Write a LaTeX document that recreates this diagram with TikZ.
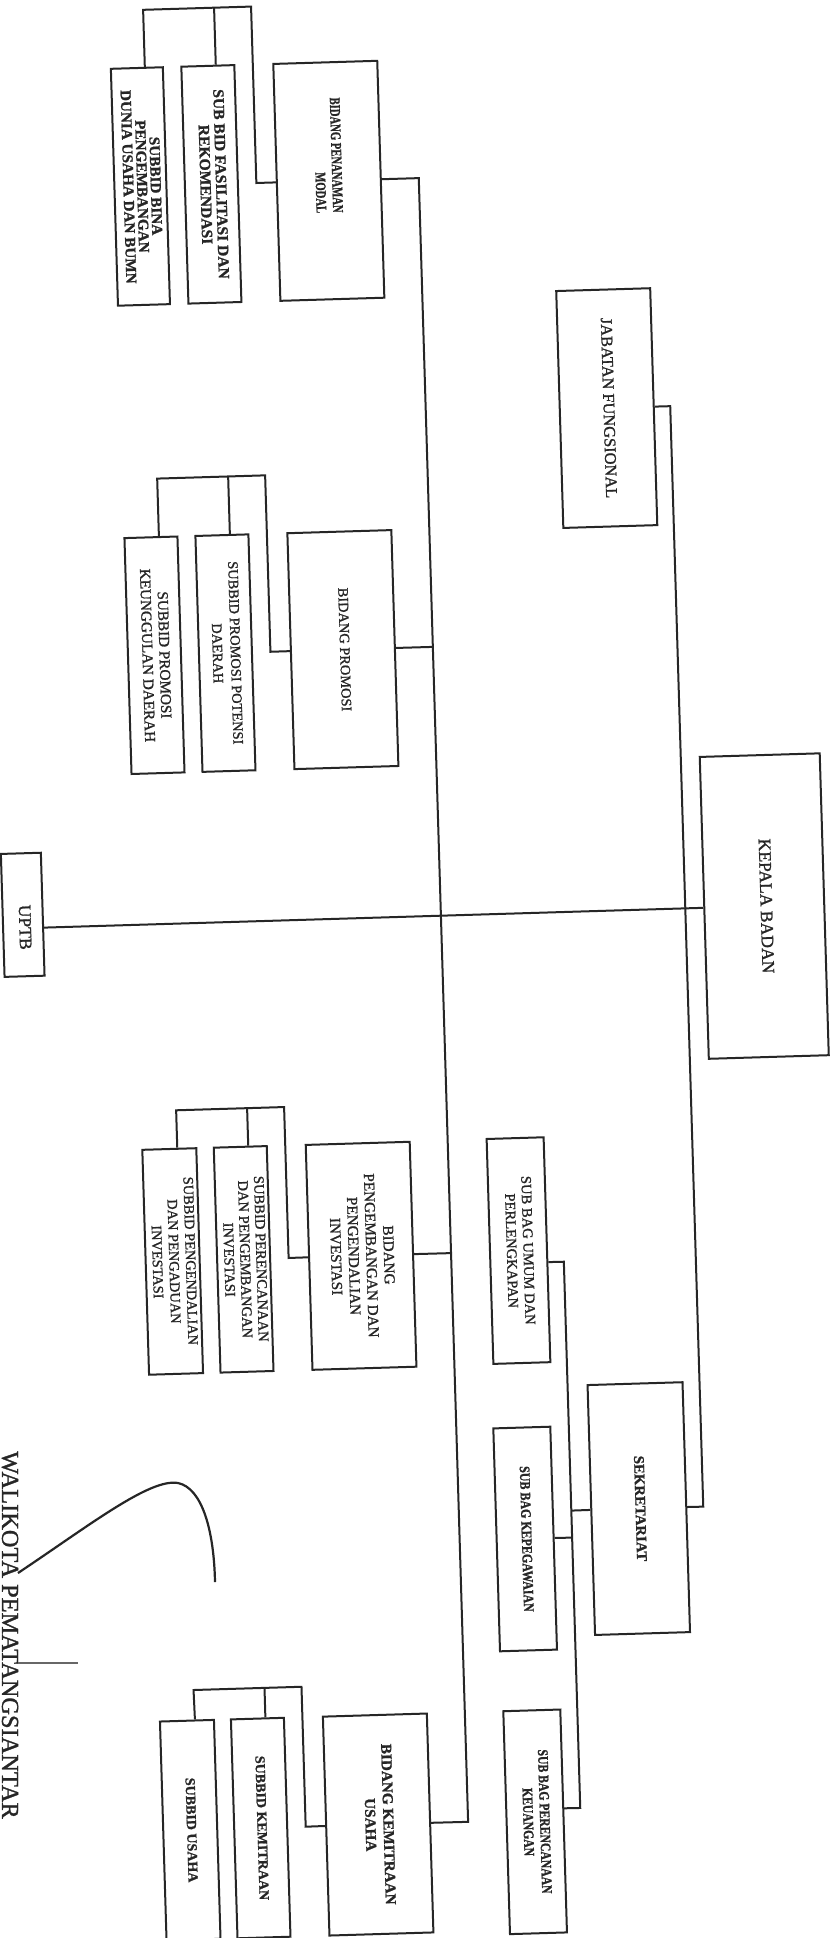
\documentclass[tikz,border=0pt]{standalone}
\usepackage{fontspec}
\setmainfont{Liberation Serif}[FakeBold=1.2]
\usepackage{graphicx}
\definecolor{ink}{HTML}{262626}
\newcommand\tbl[1]{\begin{tabular}{@{}c@{}}#1\end{tabular}}
\newcommand\fz[2]{\fontsize{#1}{#2}\selectfont}
\newcommand\rt[3]{\rotatebox{-90}{\scalebox{#2}[1]{#1\tbl{#3}}}}
\tikzset{
  box/.style={draw=ink, line width=1pt, inner sep=0pt, text=ink},
  lbl/.style={rotate=-90, inner sep=0pt, text=ink},
  con/.style={draw=ink, line width=1pt, line join=miter},
}
\begin{document}
\begin{tikzpicture}[x=0.5pt, y=-0.5pt]
\fill[white] (0,0) rectangle (834,1938);
\useasboundingbox (0,0) rectangle (834,1938);
\begin{scope}[rotate around={1.72:(417,969)}, transform shape]
% ---- Bidang Penanaman Modal group
\node[box, minimum width=52pt, minimum height=118.5pt] (pen) at (352.5,178.5) {};
\node[lbl] (pentext) at (351,153)
  {\scalebox{0.72}[1]{\bfseries\fz{7.4}{8.3}\begin{tabular}{@{}r@{}}BIDANG PENANAMAN\\MODAL\end{tabular}}};
\node[box, minimum width=26.5pt, minimum height=118.5pt] (fas) at (235,178.5)
  {\rt{\bfseries\fz{7.8}{7.8}}{1}{SUB BID FASILITASI DAN\\REKOMENDASI}};
\node[box, minimum width=26pt, minimum height=118.5pt] (bina) at (164,178.5)
  {\rt{\bfseries\fz{7.6}{6}}{1}{SUBBID BINA\\PENGEMBANGAN\\DUNIA USAHA DAN BUMN}};
% ---- Bidang Promosi group
\node[box, minimum width=52pt, minimum height=118pt] (pro) at (352.5,647.5)
  {\rt{\fz{7.2}{7}}{1}{BIDANG PROMOSI}};
\node[box, minimum width=26.5pt, minimum height=118pt] (pot) at (235,647.5)
  {\rt{\fz{7.2}{9}}{1}{SUBBID PROMOSI POTENSI\\DAERAH}};
\node[box, minimum width=26.5pt, minimum height=118pt] (keu) at (164,647.5)
  {\rt{\fz{7.6}{8.5}}{1}{SUBBID PROMOSI\\KEUNGGULAN DAERAH}};
% ---- Bidang Pengembangan group
\node[box, minimum width=52pt, minimum height=112.5pt] (peng) at (352.5,1254)
  {\rt{\fz{7.6}{8.8}}{1}{BIDANG\\PENGEMBANGAN DAN\\PENGENDALIAN\\INVESTASI}};
\node[box, minimum width=26.5pt, minimum height=112.5pt] (per) at (235,1254)
  {\rt{\fz{7.3}{8}}{1}{SUBBID PERENCANAAN\\DAN PENGEMBANGAN\\INVESTASI}};
\node[box, minimum width=27pt, minimum height=112.5pt] (pend) at (164,1254)
  {\rt{\fz{7.2}{8.3}}{1}{SUBBID PENGENDALIAN\\DAN PENGADUAN\\INVESTASI}};
% ---- Bidang Kemitraan group
\node[box, minimum width=52pt, minimum height=109.5pt] (kem) at (352.5,1823)
  {\rt{\bfseries\fz{7.6}{9}}{1}{BIDANG KEMITRAAN\\USAHA}};
\node[box, minimum width=26.5pt, minimum height=109.5pt] (skem) at (235,1823)
  {\rt{\bfseries\fz{7}{8}}{1}{SUBBID KEMITRAAN}};
\node[box, minimum width=27pt, minimum height=109.5pt] (usa) at (164.5,1823)
  {\rt{\bfseries\fz{7}{8}}{1}{SUBBID USAHA}};
% ---- right side
\node[box, minimum width=47pt, minimum height=118.5pt] (jab) at (623.5,414)
  {\rt{\fz{8.2}{8}}{1}{JABATAN FUNGSIONAL}};
\node[box, minimum width=60pt, minimum height=151pt] (kep) at (766,916.5)
  {\rt{\fz{8.8}{9}}{1}{KEPALA BADAN}};
\node[box, minimum width=20pt, minimum height=61.5pt] (uptb) at (24.5,903) {};
\node[lbl, font=\fz{8.8}{9}] (uptbtext) at (26.5,915.5) {UPTB};
\node[box, minimum width=47.5pt, minimum height=125pt] (sek) at (622.5,1515)
  {\rt{\bfseries\fz{7.4}{8}}{1}{SEKRETARIAT}};
\node[box, minimum width=28.5pt, minimum height=112.5pt] (umum) at (510,1253.5)
  {\rt{\fz{7.3}{8.3}}{1}{SUB BAG UMUM DAN\\PERLENGKAPAN}};
\node[box, minimum width=28.5pt, minimum height=111.5pt] (peg) at (508,1542)
  {\rt{\bfseries\fz{7.3}{8}}{0.82}{SUB BAG KEPEGAWAIAN}};
\node[box, minimum width=28.5pt, minimum height=111.5pt] (kua) at (509.5,1825)
  {\rt{\bfseries\fz{7.3}{8.3}}{0.8}{SUB BAG PERENCANAAN\\KEUANGAN}};
% ---- connectors: groups
\draw[con] ([xshift=4pt]bina.north) -- (172,2) -- (280,2) -- (280,178.5) -- (pen.west);
\draw[con] ([xshift=4pt]fas.north) -- (243,2);
\draw[con] ([xshift=4pt]keu.north) -- (172,471) -- (280,471) -- (280,647.5) -- (pro.west);
\draw[con] ([xshift=4pt]pot.north) -- (243,471);
\draw[con] ([xshift=4pt]pend.north) -- (172,1103) -- (280,1103) -- (280,1254) -- (peng.west);
\draw[con] ([xshift=4pt]per.north) -- (243,1103);
\draw[con] ([xshift=4pt]usa.north) -- (172,1683) -- (280,1683) -- (280,1823) -- (kem.west);
\draw[con] ([xshift=4pt]skem.north) -- (243,1683);
% ---- bidang trunk
\draw[con] (pen.east) -- (442.5,178.5) -- (442.5,1823) -- (kem.east);
\draw[con] (pro.east) -- (442.5,647.5);
\draw[con] (peng.east) -- (442.5,1254);
% ---- kepala trunk
\draw[con] (jab.east) -- (687,414) -- (687,1515) -- (sek.east);
\draw[con] ([yshift=-6.75pt]uptb.east) -- (kep.west);
% ---- sekretariat bus
\draw[con] ([yshift=-6.25pt]umum.east) -- (555,1266) -- (555,1812.5) -- ([yshift=6.25pt]kua.east);
\draw[con] (sek.west) -- (555,1515);
\draw[con] (peg.east) -- (555,1542);
\end{scope}
% ---- signature and name
\node[rotate=-90, inner sep=0pt, text=ink, font=\fz{12.2}{14}] (wali) at (10,1635) {WALIKOTA PEMATANGSIANTAR};
\draw[ink, line width=1.1pt] (18,1573) .. controls (90,1525) and (150,1478) .. (178,1483)
  .. controls (202,1488) and (214,1530) .. (215,1582);
\draw[ink!70, line width=0.6pt] (18,1663) -- (78,1663);
\end{tikzpicture}
\end{document}
